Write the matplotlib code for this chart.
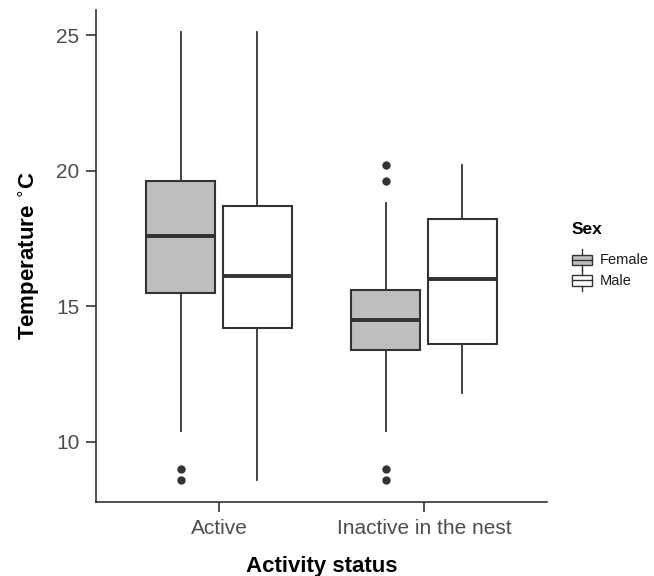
import numpy as np
import matplotlib.pyplot as plt
from matplotlib.legend_handler import HandlerBase
from matplotlib.patches import Rectangle
from matplotlib.lines import Line2D

plt.rcParams['font.family'] = ['Liberation Sans', 'DejaVu Sans']

# box statistics
groups = ["Active", "Inactive in the nest"]
sexes = ["Female", "Male"]
fills = ["#BEBEBE", "white"]
whislo = [[10.4, 8.6], [10.4, 11.8]]
q1 = [[15.5, 14.2], [13.4, 13.6]]
med = [[17.6, 16.1], [14.5, 16.0]]
q3 = [[19.6, 18.7], [15.6, 18.2]]
whishi = [[25.1, 25.1], [18.8, 20.2]]
fliers = [[[9.0, 8.6], []], [[20.2, 19.6, 9.0, 8.6], []]]

edge = "#333333"
fig = plt.figure(figsize=(6.54, 5.76), dpi=100)
ax = fig.add_axes([96/654, 74/576, 451/654, 492/576])

dodge = 0.375
for g in range(len(groups)):
    for s in range(len(sexes)):
        st = [dict(whislo=whislo[g][s], q1=q1[g][s], med=med[g][s], q3=q3[g][s],
                   whishi=whishi[g][s], fliers=fliers[g][s])]
        pos = g + 1 + (s - 0.5) * dodge
        ax.bxp(st, positions=[pos], widths=0.34, patch_artist=True, showcaps=False,
               boxprops=dict(facecolor=fills[s], edgecolor=edge, linewidth=1.5),
               medianprops=dict(color=edge, linewidth=2.8),
               whiskerprops=dict(color=edge, linewidth=1.3),
               flierprops=dict(marker='o', markerfacecolor=edge, markeredgecolor=edge,
                               markersize=5))

ax.set_xlim(0.4, 2.6)
ax.set_ylim(7.775, 25.925)
ax.set_xticks([1, 2])
ax.set_xticklabels(groups)
ax.set_yticks([10, 15, 20, 25])
ax.tick_params(axis='both', length=7, width=1.2, color="#333333",
               labelsize=15, labelcolor="#4D4D4D", pad=5)
ax.tick_params(axis='x', pad=5)
for side in ["top", "right"]:
    ax.spines[side].set_visible(False)
for side in ["left", "bottom"]:
    ax.spines[side].set_linewidth(1.2)
    ax.spines[side].set_color("#333333")

ax.set_xlabel("Activity status", fontsize=16, fontweight='bold', labelpad=13)
ax.set_ylabel(r"Temperature $^{\circ}$C", fontsize=16, fontweight='bold', labelpad=10)


class BoxHandler(HandlerBase):
    def create_artists(self, legend, orig_handle, xdescent, ydescent, width, height,
                       fontsize, trans):
        fc = orig_handle.get_facecolor()
        cx = width / 2 - xdescent
        h = height
        y0 = -ydescent
        w = width
        rect = Rectangle((cx - w/2, y0 + h*0.25), w, h*0.5, facecolor=fc,
                         edgecolor=edge, linewidth=1.0, transform=trans)
        lines = [
            Line2D([cx, cx], [y0, y0 + h*0.25], color=edge, lw=1.0, transform=trans),
            Line2D([cx, cx], [y0 + h*0.75, y0 + h], color=edge, lw=1.0, transform=trans),
            Line2D([cx - w/2, cx + w/2], [y0 + h*0.5, y0 + h*0.5], color=edge, lw=1.0,
                   transform=trans),
        ]
        return [rect] + lines


handles = [Rectangle((0, 0), 1, 1, facecolor=f) for f in fills]
leg = fig.legend(handles, sexes, handler_map={Rectangle: BoxHandler()},
                 loc='upper left', bbox_to_anchor=(572/654, 1 - 222/576), frameon=False,
                 title="Sex", fontsize=10.5, handlelength=1.35, handleheight=1.75,
                 labelspacing=0.05, handletextpad=0.55, borderaxespad=0,
                 borderpad=0)
leg.get_title().set_fontweight('bold')
leg.get_title().set_fontsize(12.5)
leg._legend_box.align = "left"
leg._legend_box.sep = 9
for t in leg.get_texts():
    t.set_color("#1A1A1A")

fig.savefig("out.png", dpi=100)
